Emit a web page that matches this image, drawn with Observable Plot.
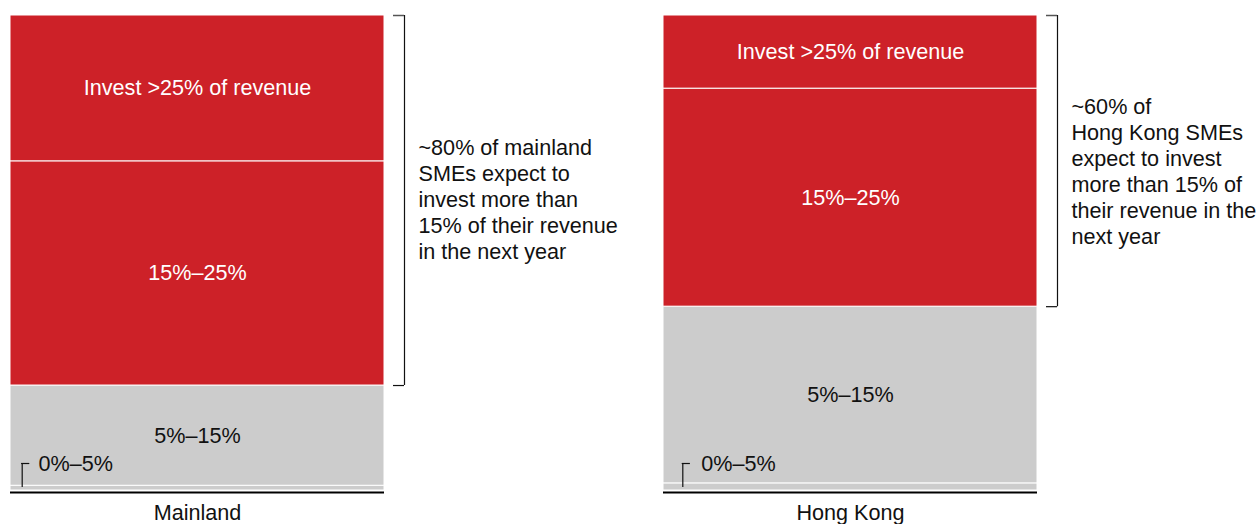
<!DOCTYPE html>
<html>
<head>
<meta charset="utf-8">
<script src="https://cdn.jsdelivr.net/npm/d3@7"></script>
<script src="https://cdn.jsdelivr.net/npm/@observablehq/plot@0.6"></script>
<style>
  html, body { margin: 0; padding: 0; background: #fff; }
  #chart { width: 1259px; height: 524px; }
</style>
</head>
<body>
<div id="chart"></div>
<script>
// ---- data ----
const regions = ["Mainland", "Hong Kong"];
const segments = ["0%–5%", "5%–15%", "15%–25%", "Invest >25% of revenue"];
const mainlandShares = [1, 21.1, 47.2, 30.7];
const hongKongShares = [1.5, 37.2, 45.9, 15.4];
const annotations = [
  "~80% of mainland\nSMEs expect to\ninvest more than\n15% of their revenue\nin the next year",
  "~60% of\nHong Kong SMEs\nexpect to invest\nmore than 15% of\ntheir revenue in the\nnext year"
];

// ---- derived table ----
const sharesByRegion = [mainlandShares, hongKongShares];
const rows = regions.flatMap((region, i) =>
  segments.map((segment, j) => ({region, segment, share: sharesByRegion[i][j]}))
);
// bracket covers ">15%" segments (the top two)
const brackets = regions.map((region, i) => ({
  region,
  start: d3.sum(sharesByRegion[i].slice(0, 2)),
  end: d3.sum(sharesByRegion[i]),
  note: annotations[i]
}));

// ---- styling ----
const RED = "#CD2128";
const GRAY = "#CCCCCC";
const FONT = "'Liberation Sans', Arial, Helvetica, sans-serif";
const FS = 21.6;
const W = 1259, H = 524;
const bandStep = 653, bandwidth = 374;
const paddingInner = 1 - bandwidth / bandStep;

const perRegion = [
  {zeroOffset: 11.7, zeroText: 28, noteDy: -2},
  {zeroOffset: 19.3, zeroText: 37.7, noteDy: 10}
];

const marks = [
  Plot.barY(rows, {
    x: "region", y: "share", fill: "segment",
    stroke: "white", strokeWidth: 1
  }),
  Plot.text(rows, Plot.stackY({
    x: "region", y: "share",
    text: d => d.segment === segments[0] ? null : d.segment,
    fill: d => (d.segment === segments[1] ? "#111" : "white"),
    fontSize: FS
  })),
  // baseline under each bar
  Plot.tickY(regions, {x: d => d, y: () => 0, dy: 2, stroke: "black", strokeWidth: 2}),
  // right-hand brackets
  Plot.ruleX(brackets, {x: "region", y1: "start", y2: "end", dx: bandwidth / 2 + 20, stroke: "#111", strokeWidth: 1.2}),
  Plot.tickY(brackets, {x: "region", y: "start", insetLeft: bandwidth + 9, insetRight: -20, stroke: "#111", strokeWidth: 1.2}),
  Plot.tickY(brackets, {x: "region", y: "end", insetLeft: bandwidth + 9, insetRight: -20, stroke: "#555", strokeWidth: 1.5}),
];

regions.forEach((region, i) => {
  const o = perRegion[i];
  const b = [brackets[i]];
  marks.push(
    Plot.text(b, {
      x: "region", y: d => (d.start + d.end) / 2, text: "note",
      textAnchor: "start", lineAnchor: "middle", lineHeight: 26 / FS,
      dx: bandwidth / 2 + 34, dy: o.noteDy, fill: "#111", fontSize: FS
    }),
    // small "┌" bracket for the 0%–5% slice
    Plot.ruleX([region], {
      x: d => d, y1: () => 0, y2: () => 0,
      dx: -bandwidth / 2 + o.zeroOffset, insetBottom: 3, insetTop: -27,
      stroke: "#111", strokeWidth: 1.2
    }),
    Plot.tickY([region], {
      x: d => d, y: () => 0, dy: -27,
      insetLeft: o.zeroOffset - 0.6, insetRight: bandwidth - o.zeroOffset - 7.6,
      stroke: "#111", strokeWidth: 1.2
    }),
    Plot.text([region], {
      x: d => d, y: () => 0, text: () => segments[0],
      textAnchor: "start", dx: -bandwidth / 2 + o.zeroText, dy: -26,
      fill: "#111", fontSize: FS
    })
  );
});

marks.push(
  Plot.axisX({tickSize: 0, tickPadding: 14, fontSize: FS, label: null, fill: "#111"})
);

const chart = Plot.plot({
  width: W,
  height: H,
  marginTop: 15,
  marginBottom: 34,
  marginLeft: 0,
  marginRight: 0,
  style: {fontFamily: FONT, fontSize: FS + "px", background: "white", color: "#111"},
  x: {domain: regions, range: [10, 10 + bandStep + bandwidth], paddingInner, paddingOuter: 0, align: 0, label: null},
  y: {domain: [0, 100], axis: null},
  color: {domain: segments, range: [GRAY, GRAY, RED, RED]},
  marks
});
document.getElementById("chart").appendChild(chart);
</script>
</body>
</html>
